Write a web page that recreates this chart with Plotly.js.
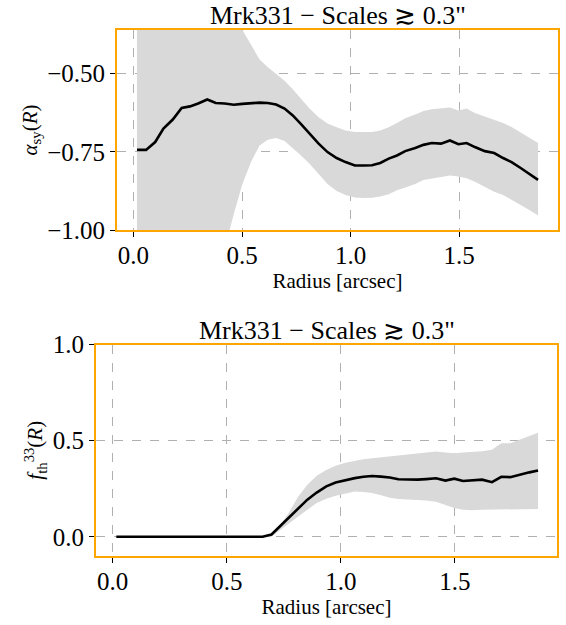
<!DOCTYPE html>
<html>
<head>
<meta charset="utf-8">
<script src="https://cdn.plot.ly/plotly-3.0.1.min.js"></script>
<style>html,body{margin:0;padding:0;background:#fff;}#chart{width:566px;height:625px;}</style>
</head>
<body>
<div id="chart"></div>
<script>
// Radius bins [arcsec]
const radius = [0.016,0.058,0.100,0.138,0.181,0.222,0.260,0.298,0.340,0.379,0.420,0.462,0.501,0.543,0.581,0.619,0.657,0.696,0.734,0.772,0.811,0.853,0.894,0.936,0.977,1.020,1.061,1.099,1.137,1.176,1.214,1.252,1.298,1.336,1.374,1.417,1.458,1.497,1.535,1.573,1.619,1.662,1.703,1.742,1.784,1.826,1.864];

// Top panel: alpha_sy(R)
const alphaMid = [-0.744,-0.744,-0.719,-0.676,-0.647,-0.610,-0.605,-0.596,-0.583,-0.594,-0.596,-0.600,-0.597,-0.594,-0.593,-0.594,-0.599,-0.612,-0.634,-0.662,-0.692,-0.724,-0.751,-0.770,-0.783,-0.794,-0.794,-0.793,-0.786,-0.772,-0.762,-0.748,-0.738,-0.728,-0.722,-0.724,-0.714,-0.726,-0.722,-0.735,-0.748,-0.754,-0.770,-0.783,-0.802,-0.823,-0.840];
const alphaHigh = [-0.05,-0.08,-0.10,-0.12,-0.15,-0.18,-0.20,-0.22,-0.25,-0.27,-0.30,-0.33,-0.36,-0.41,-0.455,-0.48,-0.50,-0.523,-0.55,-0.58,-0.612,-0.64,-0.66,-0.672,-0.682,-0.687,-0.688,-0.687,-0.682,-0.672,-0.658,-0.643,-0.631,-0.620,-0.614,-0.612,-0.609,-0.618,-0.612,-0.626,-0.637,-0.646,-0.658,-0.671,-0.688,-0.706,-0.722];
const alphaLow = [-1.60,-1.55,-1.50,-1.45,-1.40,-1.35,-1.30,-1.25,-1.20,-1.13,-1.06,-0.95,-0.855,-0.78,-0.73,-0.712,-0.706,-0.716,-0.738,-0.762,-0.788,-0.822,-0.853,-0.875,-0.888,-0.896,-0.898,-0.897,-0.893,-0.886,-0.873,-0.864,-0.853,-0.840,-0.835,-0.830,-0.826,-0.829,-0.835,-0.846,-0.862,-0.878,-0.888,-0.903,-0.920,-0.937,-0.954];

// Bottom panel: f_th^33(R)
const fthMid = [0,0,0,0,0,0,0,0,0,0,0,0,0,0,0,0,0,0.012,0.055,0.100,0.145,0.193,0.230,0.262,0.282,0.295,0.305,0.312,0.316,0.313,0.308,0.299,0.297,0.297,0.300,0.304,0.292,0.302,0.290,0.292,0.297,0.284,0.312,0.310,0.324,0.335,0.345];
const fthHigh = [0,0,0,0,0,0,0,0,0,0,0,0,0,0,0,0,0,0.015,0.060,0.125,0.205,0.270,0.318,0.347,0.370,0.385,0.395,0.403,0.408,0.413,0.417,0.422,0.426,0.431,0.438,0.443,0.438,0.434,0.438,0.441,0.445,0.452,0.486,0.486,0.505,0.527,0.541];
const fthLow = [0,0,0,0,0,0,0,0,0,0,0,0,0,0,0,0,0,0,0.035,0.070,0.105,0.140,0.175,0.198,0.213,0.226,0.236,0.233,0.228,0.216,0.203,0.196,0.193,0.193,0.189,0.182,0.165,0.150,0.140,0.138,0.140,0.141,0.143,0.145,0.145,0.145,0.145];

const titleText = 'Mrk331 \u2212 Scales \u2273 0.3"';
const FONT = '"Liberation Serif", "Times New Roman", serif';
const BAND = '#d9d9d9';

const traces = [
  {x: radius, y: alphaLow, xaxis:'x', yaxis:'y', mode:'lines', line:{width:0, color:BAND}, hoverinfo:'skip', showlegend:false},
  {x: radius, y: alphaHigh, xaxis:'x', yaxis:'y', mode:'lines', line:{width:0, color:BAND}, fill:'tonexty', fillcolor:BAND, hoverinfo:'skip', showlegend:false},
  {x: radius, y: alphaMid, xaxis:'x', yaxis:'y', mode:'lines', line:{width:2.6, color:'#000'}, showlegend:false},
  {x: radius, y: fthLow, xaxis:'x2', yaxis:'y2', mode:'lines', line:{width:0, color:BAND}, hoverinfo:'skip', showlegend:false},
  {x: radius, y: fthHigh, xaxis:'x2', yaxis:'y2', mode:'lines', line:{width:0, color:BAND}, fill:'tonexty', fillcolor:BAND, hoverinfo:'skip', showlegend:false},
  {x: radius, y: fthMid, xaxis:'x2', yaxis:'y2', mode:'lines', line:{width:2.6, color:'#000'}, showlegend:false}
];

const axCommon = {
  showline:true, linecolor:'#FFA500', linewidth:2, mirror:true,
  ticks:'outside', tickcolor:'#000', ticklen:5, tickwidth:1,
  showgrid:true, gridcolor:'#b0b0b0', griddash:'dash', gridwidth:1,
  zeroline:false, tickfont:{family:FONT, size:25, color:'#000'}
};

const layout = {
  width:566, height:625,
  margin:{l:0, r:0, t:0, b:0},
  paper_bgcolor:'#fff', plot_bgcolor:'#fff',
  font:{family:FONT, color:'#000'},
  showlegend:false,
  xaxis: Object.assign({}, axCommon, {domain:[117/566, 558/566], anchor:'y', range:[-0.076, 1.956], tickvals:[0,0.5,1,1.5], ticktext:['0.0','0.5','1.0','1.5'],
    ticklabelposition:'outside', ticklabelstandoff:-3,
    title:{text:'Radius [arcsec]', font:{family:FONT, size:21, color:'#000'}, standoff:2}}),
  yaxis: Object.assign({}, axCommon, {domain:[1-230/625, 1-30/625], anchor:'x', range:[-1.0, -0.361], tickvals:[-1.0,-0.75,-0.5], ticktext:['\u22121.00','\u22120.75','\u22120.50'],
    title:{text:'<i>\u03b1</i><sub>sy</sub>(<i>R</i>)', font:{family:FONT, size:21, color:'#000'}, standoff:4}}),
  xaxis2: Object.assign({}, axCommon, {domain:[96/566, 557/566], anchor:'y2', range:[-0.073, 1.947], tickvals:[0,0.5,1,1.5], ticktext:['0.0','0.5','1.0','1.5'],
    ticklabelposition:'outside', ticklabelstandoff:-3,
    title:{text:'Radius [arcsec]', font:{family:FONT, size:21, color:'#000'}, standoff:2}}),
  yaxis2: Object.assign({}, axCommon, {domain:[1-556/625, 1-344.5/625], anchor:'x2', range:[-0.1, 1.0], tickvals:[0,0.5,1.0], ticktext:['0.0','0.5','1.0'],
    title:{text:'<i>f</i><sub>th</sub><sup>33</sup>(<i>R</i>)', font:{family:FONT, size:21, color:'#000'}, standoff:4}}),
  annotations: [
    {text:titleText, xref:'x domain', yref:'y domain', x:0.5, y:1, xanchor:'center', yanchor:'bottom', yshift:-2, showarrow:false, font:{family:FONT, size:26, color:'#000'}},
    {text:titleText, xref:'x2 domain', yref:'y2 domain', x:0.5, y:1, xanchor:'center', yanchor:'bottom', yshift:-2, showarrow:false, font:{family:FONT, size:26, color:'#000'}}
  ]
};

Plotly.newPlot('chart', traces, layout, {displayModeBar:false, staticPlot:true});
</script>
</body>
</html>
